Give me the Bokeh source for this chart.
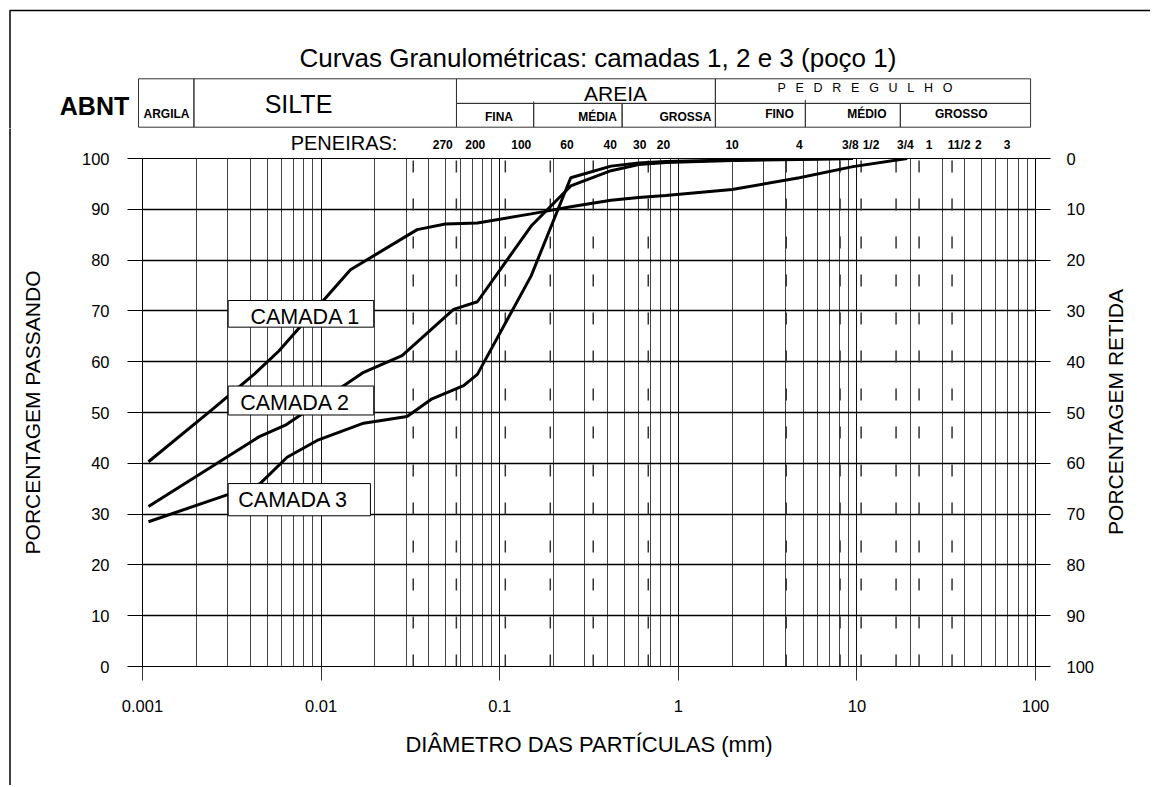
import math
from bokeh.plotting import figure
from bokeh.layouts import column, row
from bokeh.models import Range1d, LinearAxis, LogAxis, FixedTicker, CustomJSTickFormatter
from bokeh.embed import file_html
from bokeh.resources import INLINE
from bokeh.core.properties import value

FONT = "Liberation Sans"

# ---------------- data ----------------
camada1_mm = [0.00108, 0.0025, 0.00424, 0.0058, 0.0146, 0.0345, 0.0496, 0.075, 0.15,
              0.25, 0.42, 0.6, 0.85, 2.0, 4.76, 9.5, 19.1]
camada1_pct = [40.3, 50.8, 57.6, 62.1, 78.1, 86.0, 87.1, 87.3, 89.1,
               90.5, 91.8, 92.3, 92.7, 93.9, 96.2, 98.4, 100.0]

camada2_mm = [0.00108, 0.00448, 0.00631, 0.0173, 0.0284, 0.0552, 0.075, 0.15,
              0.25, 0.42, 0.6, 0.85, 2.0, 4.76, 9.5]
camada2_pct = [31.5, 45.2, 47.5, 57.9, 61.2, 70.3, 71.8, 86.7,
               94.6, 97.6, 98.8, 99.2, 99.6, 99.8, 100.0]

camada3_mm = [0.00108, 0.00455, 0.00645, 0.0095, 0.0173, 0.0303, 0.0418, 0.0628, 0.075,
              0.15, 0.25, 0.42, 0.6, 0.85, 2.0, 4.76, 9.5]
camada3_pct = [28.5, 36.0, 41.2, 44.5, 47.9, 49.2, 52.7, 55.3, 57.5,
               76.9, 96.2, 98.5, 99.1, 99.4, 99.7, 99.9, 100.0]

layer_names = ["CAMADA 1", "CAMADA 2", "CAMADA 3"]

sieve_labels = ["270", "200", "100", "60", "40", "30", "20", "10", "4",
                "3/8", "1/2", "3/4", "1", "11/2", "2", "3"]
sieve_mm = [0.048, 0.073, 0.132, 0.238, 0.416, 0.608, 0.825, 2.0, 4.76,
            9.2, 12.0, 18.7, 25.4, 37.4, 47.8, 69.4]

dash_mm = [0.0328, 0.0572, 0.1075, 0.192, 0.334, 0.679, 4.02, 8.05, 10.56, 16.57, 22.29, 34.1]

# ABNT class boundaries as drawn in the header table (mm)
class_edges_mm = [0.00095, 0.00194, 0.0572, 0.1547, 0.4836, 1.609, 5.13, 17.45, 93.5]
class_names = ["ARGILA", "SILTE", "AREIA", "FINA", "MÉDIA", "GROSSA",
               "PEDREGULHO", "FINO", "MÉDIO", "GROSSO"]

x_ticks = [0.001, 0.01, 0.1, 1, 10, 100]
x_minor = [k * 10.0 ** e for e in range(-3, 2) for k in range(2, 10)]
y_ticks = list(range(0, 101, 10))

TITLE = "Curvas Granulométricas: camadas 1, 2 e 3 (poço 1)"

# ---------------- layout (page pixels) ----------------
W, H = 1150, 785
HEAD_H = 128           # header strip height (title + ABNT table)
LEFT_W = 12            # strip carrying the sheet's left border
RIGHT_W = 50           # strip carrying the right axis title
MAIN_W = W - LEFT_W - RIGHT_W
BODY_H = H - HEAD_H

X0_PX, DEC_PX = 142.0, 178.66   # page x of 0.001 mm, px per decade
Y0_PX, PCT_PX = 666.0, 5.09     # page y of 0 %, px per 1 %


def mm_at(px):
    return 10 ** (-3 + (px - X0_PX) / DEC_PX)


def pct_at(py):
    return (Y0_PX - py) / PCT_PX


def blank(fig):
    fig.outline_line_color = None
    for g in fig.grid:
        g.visible = False


common = dict(output_backend="svg", toolbar_location=None, background_fill_color="white",
              border_fill_color="white", frame_align=False)

# ---------------- header ----------------
hd = figure(width=W, height=HEAD_H, x_axis_type="log", x_axis_location=None,
            y_axis_location=None, x_range=Range1d(mm_at(0), mm_at(W)),
            y_range=Range1d(HEAD_H, 0), min_border=0, **common)
blank(hd)

hd.line([mm_at(9.5), mm_at(9.5), mm_at(W + 5)], [HEAD_H + 2, 10, 10],
        line_color="black", line_width=1.5)

hd.text(x=[mm_at(597.5)], y=[57], text=[TITLE], text_font=value(FONT),
        text_font_size="26px", text_align="center", text_baseline="middle",
        text_color="black")

row_top, row_mid, row_bot = 78.3, 102.9, 126.7
e = class_edges_mm
cell_l = [e[0], e[1], e[2], e[2], e[3], e[4], e[5], e[5], e[6], e[7]]
cell_r = [e[1], e[2], e[5], e[3], e[4], e[5], e[8], e[6], e[7], e[8]]
cell_t = [row_top, row_top, row_top, row_mid, row_mid, row_mid, row_top, row_mid, row_mid, row_mid]
cell_b = [row_bot, row_bot, row_mid, row_bot, row_bot, row_bot, row_mid, row_bot, row_bot, row_bot]
hd.quad(left=cell_l, right=cell_r, top=cell_t, bottom=cell_b, fill_color=None,
        line_color="#333333", line_width=1)
hd.segment(x0=[e[3], e[6]], y0=[101.0, 99.3], x1=[e[3], e[6]], y1=[row_mid, row_mid],
           line_color="#333333", line_width=1)

hd.text(x=[mm_at(94)], y=[105.8], text=["ABNT"], text_font=value(FONT),
        text_font_size="25px", text_font_style="bold", text_align="center",
        text_baseline="middle", text_color="black")

spaced = "\u2002 ".join(list(class_names[6]))
big_txt = [class_names[1], class_names[2], spaced]
big_x = [mm_at(298), mm_at(615), mm_at(864.5)]
big_y = [103.0, 92.5, 87.5]
big_sz = ["25px", "21px", "12.5px"]
for t, x, y, s in zip(big_txt, big_x, big_y, big_sz):
    hd.text(x=[x], y=[y], text=[t], text_font=value(FONT), text_font_size=s,
            text_align="center", text_baseline="middle", text_color="black")

small_txt = [class_names[0], class_names[3], class_names[4], class_names[5],
             class_names[7], class_names[8], class_names[9]]
small_x = [mm_at(v) for v in (166.0, 498.5, 597.0, 685.0, 779.0, 866.3, 960.8)]
small_y = [113.3, 116.8, 116.8, 116.8, 113.8, 113.8, 113.8]
hd.text(x=small_x, y=small_y, text=small_txt, text_font=value(FONT),
        text_font_size="12px", text_font_style="bold", text_align="center",
        text_baseline="middle", text_color="black")

# ---------------- left strip (sheet border) ----------------
ls = figure(width=LEFT_W, height=BODY_H, x_axis_location=None, y_axis_location=None,
            x_range=Range1d(0, LEFT_W), y_range=Range1d(H, HEAD_H), min_border=0, **common)
blank(ls)
ls.line([9.5, 9.5], [HEAD_H - 2, H + 2], line_color="black", line_width=1.5)

# ---------------- main chart ----------------
p = figure(width=MAIN_W, height=BODY_H, x_axis_type="log",
           x_range=Range1d(0.001, 100), y_range=Range1d(0, 100),
           min_border_left=int(X0_PX) - LEFT_W, min_border_right=LEFT_W + MAIN_W - 1035,
           min_border_top=157 - HEAD_H, min_border_bottom=H - 666, **common)
p.outline_line_color = "black"
p.outline_line_width = 1

p.xgrid.ticker = FixedTicker(ticks=x_ticks, minor_ticks=x_minor)
p.xgrid.grid_line_color = "#111111"
p.xgrid.grid_line_width = 1
p.xgrid.minor_grid_line_color = "#444444"
p.xgrid.minor_grid_line_width = 1
p.ygrid.ticker = FixedTicker(ticks=y_ticks)
p.ygrid.grid_line_color = "black"
p.ygrid.grid_line_width = 1.5

xa = p.xaxis[0]
xa.ticker = FixedTicker(ticks=x_ticks, minor_ticks=[])
xa.formatter = CustomJSTickFormatter(code="return tick.toString();")
xa.major_tick_out = 14
xa.major_tick_in = 0
xa.minor_tick_line_color = None
xa.major_tick_line_color = "#333333"
xa.axis_line_color = "black"
xa.major_label_standoff = 19
xa.major_label_text_font = FONT
xa.major_label_text_font_size = "16.5px"
xa.major_label_text_color = "black"
xa.axis_label = "DIÂMETRO DAS PARTÍCULAS (mm)"
xa.axis_label_text_font = FONT
xa.axis_label_text_font_size = "22px"
xa.axis_label_text_font_style = "normal"
xa.axis_label_text_color = "black"
xa.axis_label_standoff = 17

ya = p.yaxis[0]
ya.ticker = FixedTicker(ticks=y_ticks)
ya.major_tick_out = 15
ya.major_tick_in = 0
ya.minor_tick_line_color = None
ya.major_tick_line_color = "black"
ya.axis_line_color = "black"
ya.major_label_standoff = 18
ya.major_label_text_font = FONT
ya.major_label_text_font_size = "16.5px"
ya.major_label_text_color = "black"
ya.axis_label = "PORCENTAGEM PASSANDO"
ya.axis_label_text_font = FONT
ya.axis_label_text_font_size = "21px"
ya.axis_label_text_font_style = "normal"
ya.axis_label_text_color = "black"
ya.axis_label_standoff = 35

p.extra_y_ranges = {"ret": Range1d(100, 0)}
ra = LinearAxis(y_range_name="ret", ticker=FixedTicker(ticks=y_ticks))
ra.major_tick_out = 15
ra.major_tick_in = 0
ra.minor_tick_line_color = None
ra.major_tick_line_color = "black"
ra.axis_line_color = "black"
ra.major_label_standoff = 16
ra.major_label_text_font = FONT
ra.major_label_text_font_size = "16.5px"
ra.major_label_text_color = "black"
p.add_layout(ra, "right")

# sieve numbers along the top (an axis of its own)
sieve_fmt = CustomJSTickFormatter(args=dict(vals=sieve_mm, labs=sieve_labels), code="""
    let best = 0, bd = Infinity;
    for (let i = 0; i < vals.length; i++) {
        const d = Math.abs(Math.log(vals[i]) - Math.log(tick));
        if (d < bd) { bd = d; best = i; }
    }
    return labs[best];
""")
sa = LogAxis(ticker=FixedTicker(ticks=sieve_mm, minor_ticks=[]), formatter=sieve_fmt)
sa.axis_line_color = None
sa.major_tick_line_color = None
sa.minor_tick_line_color = None
sa.major_tick_out = 0
sa.major_tick_in = 0
sa.major_label_standoff = 7
sa.major_label_text_font = FONT
sa.major_label_text_font_size = "12px"
sa.major_label_text_font_style = "bold"
sa.major_label_text_color = "black"
p.add_layout(sa, "above")

pa = LogAxis(ticker=FixedTicker(ticks=[mm_at(343.6)], minor_ticks=[]),
             formatter=CustomJSTickFormatter(code="return 'PENEIRAS:';"))
pa.axis_line_color = None
pa.major_tick_line_color = None
pa.minor_tick_line_color = None
pa.major_tick_out = 0
pa.major_tick_in = 0
pa.major_label_standoff = -19
pa.major_label_text_font = FONT
pa.major_label_text_font_size = "20px"
pa.major_label_text_color = "black"
p.add_layout(pa, "above")

p.segment(x0=dash_mm, y0=[100] * len(dash_mm), x1=dash_mm, y1=[0] * len(dash_mm),
          line_color="#333333", line_width=1.5, line_dash="12 26", line_dash_offset=36)

for xs, ys in [(camada1_mm, camada1_pct), (camada2_mm, camada2_pct), (camada3_mm, camada3_pct)]:
    p.line(xs, ys, line_color="black", line_width=3)

box_px = [(227.7, 373.3, 299.3, 326.0), (227.7, 373.3, 385.0, 414.0), (227.7, 370.0, 482.7, 515.0)]
text_px = [(305.0, 316.0), (294.7, 402.0), (292.8, 499.0)]
p.quad(left=[mm_at(b[0]) for b in box_px], right=[mm_at(b[1]) for b in box_px],
       top=[pct_at(b[2]) for b in box_px], bottom=[pct_at(b[3]) for b in box_px],
       fill_color="white", line_color="black", line_width=1)
p.text(x=[mm_at(t[0]) for t in text_px], y=[pct_at(t[1]) for t in text_px], text=layer_names,
       text_font=value(FONT), text_font_size="21.5px", text_align="center",
       text_baseline="middle", text_color="black")

# ---------------- right strip (right axis title) ----------------
rs = figure(width=RIGHT_W, height=BODY_H, x_axis_location=None, y_axis_location=None,
            x_range=Range1d(W - RIGHT_W, W), y_range=Range1d(H, HEAD_H), min_border=0, **common)
blank(rs)
rs.text(x=[1115], y=[411.5], text=["PORCENTAGEM RETIDA"], angle=math.pi / 2,
        text_font=value(FONT), text_font_size="21px", text_align="center",
        text_baseline="middle", text_color="black")

layout = column(hd, row(ls, p, rs, spacing=0), spacing=0)
open("out.html", "w").write(file_html(layout, INLINE))
